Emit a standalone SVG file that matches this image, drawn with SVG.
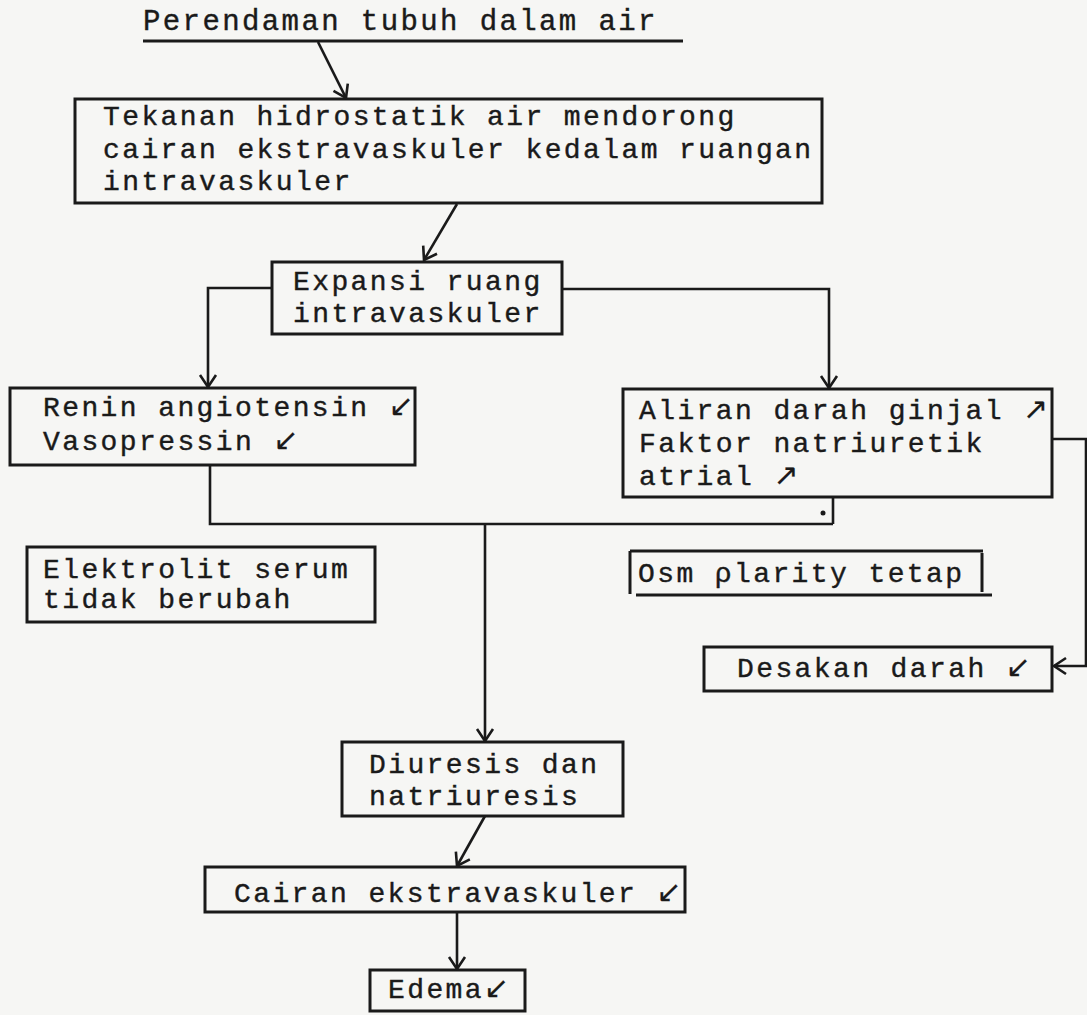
<svg xmlns="http://www.w3.org/2000/svg" width="1087" height="1015" viewBox="0 0 1087 1015">
<style>
.t{font-family:"Liberation Mono","DejaVu Sans Mono",monospace;font-size:28px;letter-spacing:2.4px;fill:#1a1a1a;stroke:#1a1a1a;stroke-width:0.4}
.tt{font-size:29px}
.a{font-family:"DejaVu Sans",sans-serif;font-size:30px;letter-spacing:0;stroke-width:0.2}
.b{fill:none;stroke:#1a1a1a;stroke-width:3}
.c{fill:none;stroke:#1a1a1a;stroke-width:2.6}
</style>
<defs>
<marker id="ah" viewBox="-14 -10 16 20" refX="0" refY="0" markerWidth="16" markerHeight="20" markerUnits="userSpaceOnUse" orient="auto">
<path d="M-12,-8 L0,0 L-12,8" fill="none" stroke="#1a1a1a" stroke-width="2.6"/>
</marker>
</defs>
<rect width="1087" height="1015" fill="#f6f6f4"/>
<g id="n-title">
<text class="t tt" x="143" y="30">Perendaman tubuh dalam air</text>
<path class="b" d="M143,41 H683"/>
</g>
<g id="n-tekanan">
<rect class="b" x="75" y="99" width="747" height="104"/>
<text class="t" x="103" y="125">Tekanan hidrostatik air mendorong</text>
<text class="t" x="103" y="158">cairan ekstravaskuler kedalam ruangan</text>
<text class="t" x="103" y="190">intravaskuler</text>
</g>
<g id="n-expansi">
<rect class="b" x="272" y="262" width="290" height="72"/>
<text class="t" x="293" y="290">Expansi ruang</text>
<text class="t" x="293" y="322">intravaskuler</text>
</g>
<g id="n-renin">
<rect class="b" x="10" y="388" width="405" height="77"/>
<text class="t" x="43" y="416">Renin angiotensin <tspan class="a">↙</tspan></text>
<text class="t" x="43" y="450">Vasopressin <tspan class="a">↙</tspan></text>
</g>
<g id="n-aliran">
<rect class="b" x="623" y="389" width="429" height="108"/>
<text class="t" x="639" y="419">Aliran darah ginjal <tspan class="a">↗</tspan></text>
<text class="t" x="639" y="452">Faktor natriuretik</text>
<text class="t" x="639" y="485">atrial <tspan class="a">↗</tspan></text>
</g>
<g id="n-elektrolit">
<rect class="b" x="27" y="547" width="348" height="75"/>
<text class="t" x="43" y="578">Elektrolit serum</text>
<text class="t" x="43" y="608">tidak berubah</text>
</g>
<g id="n-osm">
<path class="b" d="M630,551 H983 M630,551 V594 M636,595 H992 M982,553 V592"/>
<text class="t" x="638" y="582">Osm ρlarity tetap</text>
</g>
<g id="n-desakan">
<rect class="b" x="704" y="647" width="348" height="44"/>
<text class="t" x="737" y="677">Desakan darah <tspan class="a">↙</tspan></text>
</g>
<g id="n-diuresis">
<rect class="b" x="342" y="742" width="281" height="74"/>
<text class="t" x="369" y="773">Diuresis dan</text>
<text class="t" x="369" y="805">natriuresis</text>
</g>
<g id="n-cairan">
<rect class="b" x="205" y="867" width="480" height="45"/>
<text class="t" x="234" y="902">Cairan ekstravaskuler <tspan class="a">↙</tspan></text>
</g>
<g id="n-edema">
<rect class="b" x="370" y="970" width="155" height="41"/>
<text class="t" x="388" y="998">Edema<tspan class="a">↙</tspan></text>
</g>
<g id="connectors">
<path class="c" d="M318,42 L346,98" marker-end="url(#ah)"/>
<path class="c" d="M457,204 L424,260" marker-end="url(#ah)"/>
<path class="c" d="M272,288 H208 V387" marker-end="url(#ah)"/>
<path class="c" d="M562,289 H829 V388" marker-end="url(#ah)"/>
<path class="c" d="M1052,439 H1086 V666 H1054" marker-end="url(#ah)"/>
<path class="c" d="M210,465 V524 H833 M833,497 V524"/>
<path class="c" d="M485,524 V741" marker-end="url(#ah)"/>
<path class="c" d="M485,816 L457,866" marker-end="url(#ah)"/>
<path class="c" d="M457,912 V969" marker-end="url(#ah)"/>
<circle cx="823" cy="513" r="2.5" fill="#1a1a1a"/>
</g>
</svg>
